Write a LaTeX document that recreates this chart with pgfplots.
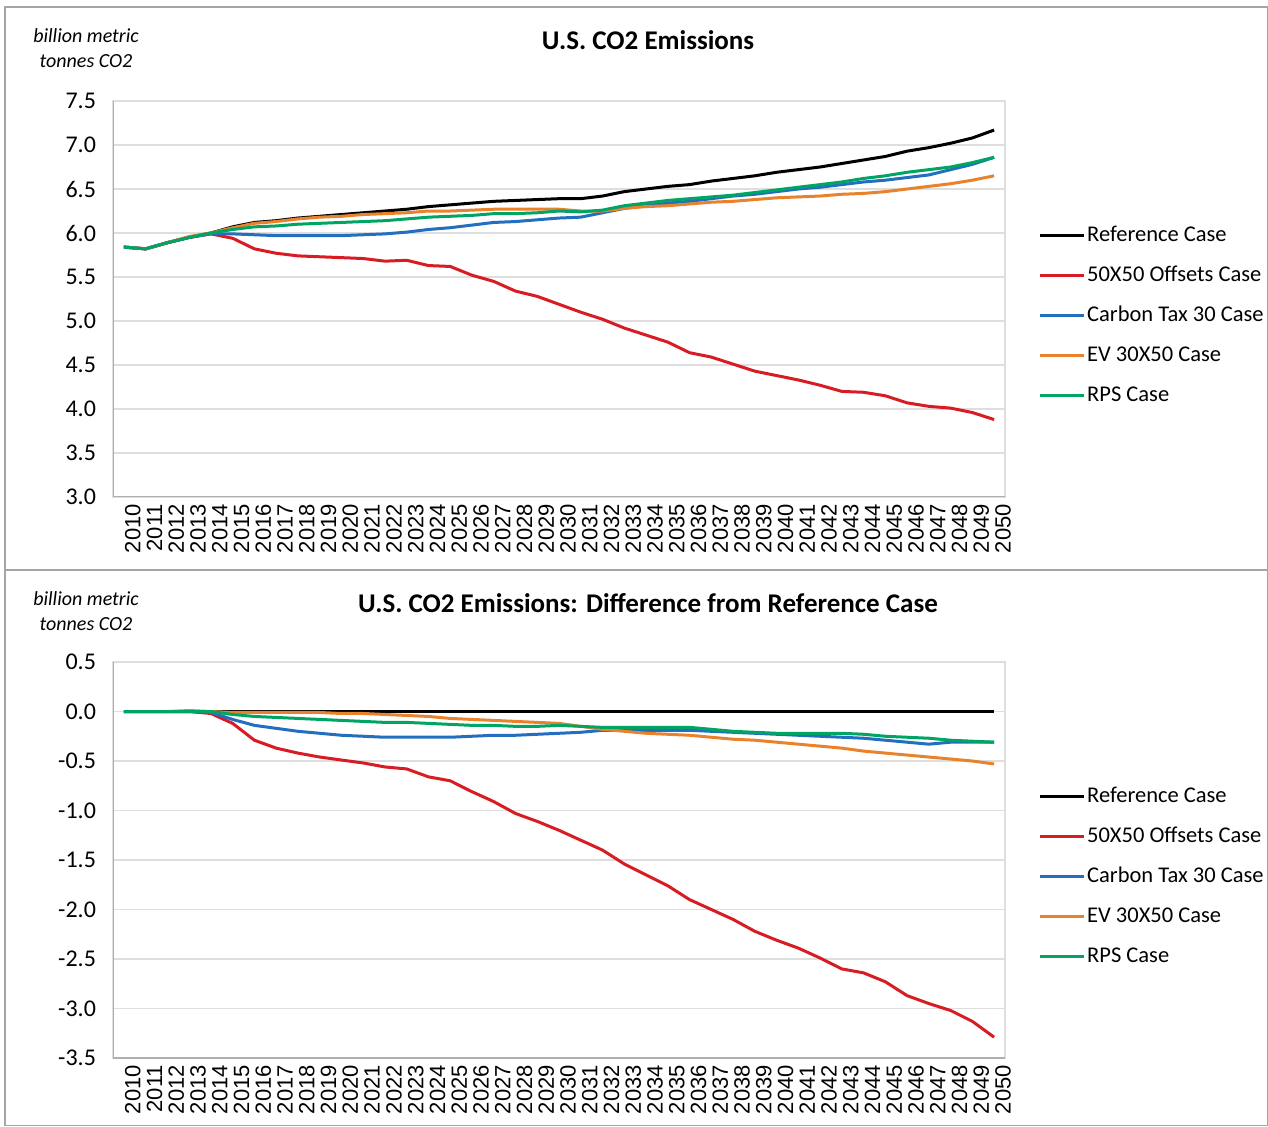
\documentclass[border=0pt]{standalone}
\usepackage{fontspec}
\setmainfont{Carlito}
\newfontfamily\arialfont{Liberation Sans}
\usepackage{pgfplots}
\pgfplotsset{compat=1.18}
\usepackage{pgfplotstable}

\definecolor{cRef}{RGB}{0,0,0}
\definecolor{cOff}{RGB}{215,28,35}
\definecolor{cTax}{RGB}{35,110,190}
\definecolor{cEV}{RGB}{232,130,45}
\definecolor{cRPS}{RGB}{0,165,100}
\definecolor{gridc}{RGB}{222,222,222}
\definecolor{axc}{RGB}{175,175,175}
\definecolor{framec}{RGB}{165,165,165}

\pgfplotstableread{
year ref off tax ev rps
2010 5.84 5.84 5.84 5.84 5.84
2011 5.82 5.82 5.82 5.82 5.82
2012 5.89 5.89 5.89 5.89 5.89
2013 5.95 5.95 5.95 5.96 5.95
2014 6.00 5.99 5.99 6.00 6.00
2015 6.07 5.94 5.99 6.06 6.04
2016 6.12 5.82 5.98 6.11 6.07
2017 6.14 5.77 5.97 6.13 6.08
2018 6.17 5.74 5.97 6.16 6.10
2019 6.19 5.73 5.97 6.18 6.11
2020 6.21 5.72 5.97 6.19 6.12
2021 6.23 5.71 5.98 6.21 6.13
2022 6.25 5.68 5.99 6.22 6.14
2023 6.27 5.69 6.01 6.23 6.16
2024 6.30 5.63 6.04 6.25 6.18
2025 6.32 5.62 6.06 6.25 6.19
2026 6.34 5.52 6.09 6.26 6.20
2027 6.36 5.45 6.12 6.27 6.22
2028 6.37 5.34 6.13 6.27 6.22
2029 6.38 5.28 6.15 6.27 6.23
2030 6.39 5.19 6.17 6.27 6.25
2031 6.39 5.10 6.18 6.25 6.24
2032 6.42 5.02 6.23 6.25 6.26
2033 6.47 4.92 6.28 6.28 6.31
2034 6.50 4.84 6.31 6.30 6.34
2035 6.53 4.76 6.34 6.31 6.37
2036 6.55 4.64 6.36 6.33 6.39
2037 6.59 4.59 6.39 6.35 6.41
2038 6.62 4.51 6.42 6.36 6.43
2039 6.65 4.43 6.44 6.38 6.46
2040 6.69 4.38 6.47 6.40 6.49
2041 6.72 4.33 6.50 6.41 6.52
2042 6.75 4.27 6.52 6.42 6.55
2043 6.79 4.20 6.55 6.44 6.58
2044 6.83 4.19 6.58 6.45 6.62
2045 6.87 4.15 6.60 6.47 6.65
2046 6.93 4.07 6.63 6.50 6.69
2047 6.97 4.03 6.66 6.53 6.72
2048 7.02 4.01 6.72 6.56 6.75
2049 7.08 3.96 6.78 6.60 6.80
2050 7.17 3.88 6.86 6.65 6.86
}\levels

\pgfplotstableread{
year ref off tax ev rps
2010 0 0 0 0 0
2011 0 0 0 0 0
2012 0 0 0 0 0
2013 0 0 0 0.01 0
2014 0 -0.02 -0.01 0 0
2015 0 -0.12 -0.08 -0.01 -0.03
2016 0 -0.29 -0.14 -0.01 -0.05
2017 0 -0.37 -0.17 -0.01 -0.06
2018 0 -0.42 -0.20 -0.01 -0.07
2019 0 -0.46 -0.22 -0.01 -0.08
2020 0 -0.49 -0.24 -0.02 -0.09
2021 0 -0.52 -0.25 -0.02 -0.10
2022 0 -0.56 -0.26 -0.03 -0.11
2023 0 -0.58 -0.26 -0.04 -0.11
2024 0 -0.66 -0.26 -0.05 -0.12
2025 0 -0.70 -0.26 -0.07 -0.13
2026 0 -0.81 -0.25 -0.08 -0.14
2027 0 -0.91 -0.24 -0.09 -0.14
2028 0 -1.03 -0.24 -0.10 -0.15
2029 0 -1.11 -0.23 -0.11 -0.15
2030 0 -1.20 -0.22 -0.12 -0.14
2031 0 -1.30 -0.21 -0.15 -0.15
2032 0 -1.40 -0.19 -0.18 -0.16
2033 0 -1.54 -0.19 -0.20 -0.16
2034 0 -1.65 -0.19 -0.22 -0.16
2035 0 -1.76 -0.19 -0.23 -0.16
2036 0 -1.90 -0.19 -0.24 -0.16
2037 0 -2.00 -0.20 -0.26 -0.18
2038 0 -2.10 -0.21 -0.28 -0.20
2039 0 -2.22 -0.22 -0.29 -0.21
2040 0 -2.31 -0.23 -0.31 -0.22
2041 0 -2.39 -0.24 -0.33 -0.22
2042 0 -2.49 -0.25 -0.35 -0.22
2043 0 -2.60 -0.26 -0.37 -0.22
2044 0 -2.64 -0.27 -0.40 -0.23
2045 0 -2.73 -0.29 -0.42 -0.25
2046 0 -2.87 -0.31 -0.44 -0.26
2047 0 -2.95 -0.33 -0.46 -0.27
2048 0 -3.02 -0.31 -0.48 -0.29
2049 0 -3.13 -0.31 -0.50 -0.30
2050 0 -3.29 -0.31 -0.53 -0.31
}\diffs

\pgfplotsset{
  co2/.style={
    scale only axis, width=446pt, height=198pt,
    xmin=2009.5, xmax=2050.5,
    xtick={2010,...,2050},
    /pgf/number format/assume math mode=true,
    xticklabel style={rotate=90, anchor=east, font=\arialfont\fontsize{11}{13}\selectfont,
      /pgf/number format/1000 sep={}, yshift=-4.5pt},
    yticklabel style={font=\fontsize{12}{14}\selectfont, xshift=-5pt,
      /pgf/number format/.cd, fixed, fixed zerofill, precision=1},
    major tick length=0pt,
    ymajorgrids, grid style={gridc, line width=0.6pt},
    axis line style={draw=gridc, line width=0.6pt},
    every axis plot/.append style={line width=1.5pt, mark=none, line join=round},
    legend style={draw=none, fill=none, at={(1.030,0.70)}, anchor=north west,
      font=\fontsize{11.25}{13}\selectfont, row sep=9pt,
      nodes={inner xsep=1pt, inner ysep=0pt, text height=8.5pt, text depth=2.5pt}},
    legend cell align=left,
    legend image code/.code={\draw[##1] (0pt,0pt) -- (22pt,0pt);},
  }
}

\begin{document}
\begin{tikzpicture}
\useasboundingbox (0,0) rectangle (634pt,563pt);
\draw[framec, line width=0.6pt] (2.5pt,0.3pt) rectangle (633.7pt,559.5pt);
\draw[framec, line width=0.6pt] (2.5pt,278pt) -- (633.7pt,278pt);

\node[font=\bfseries\fontsize{13.5}{16}\selectfont] at (324pt,543pt) {U.S. CO2 Emissions};
\node[font=\itshape\fontsize{10}{12}\selectfont] at (43pt,545pt) {billion metric};
\node[font=\itshape\fontsize{10}{12}\selectfont] at (43pt,532.5pt) {tonnes CO2};

\node[font=\bfseries\fontsize{13.5}{16}\selectfont] at (324pt,261.5pt) {U.S. CO2 Emissions: Difference from Reference Case};
\node[font=\itshape\fontsize{10}{12}\selectfont] at (43pt,263.5pt) {billion metric};
\node[font=\itshape\fontsize{10}{12}\selectfont] at (43pt,251pt) {tonnes CO2};

\begin{axis}[co2, at={(56.5pt,314.5pt)}, anchor=south west,
  ymin=3, ymax=7.5, ytick={3,3.5,4,4.5,5,5.5,6,6.5,7,7.5}]
  \draw[axc, line width=0.7pt] (rel axis cs:0,1) -- (rel axis cs:0,0) -- (rel axis cs:1,0);
  \addplot[cRef] table[x=year, y=ref] {\levels};
  \addlegendentry{Reference Case}
  \addplot[cOff] table[x=year, y=off] {\levels};
  \addlegendentry{50X50 Offsets Case}
  \addplot[cTax] table[x=year, y=tax] {\levels};
  \addlegendentry{Carbon Tax 30 Case}
  \addplot[cEV] table[x=year, y=ev] {\levels};
  \addlegendentry{EV 30X50 Case}
  \addplot[cRPS] table[x=year, y=rps] {\levels};
  \addlegendentry{RPS Case}
\end{axis}

\begin{axis}[co2, at={(56.5pt,34pt)}, anchor=south west,
  ymin=-3.5, ymax=0.5, ytick={-3.5,-3,-2.5,-2,-1.5,-1,-0.5,0,0.5}]
  \draw[axc, line width=0.7pt] (rel axis cs:0,1) -- (rel axis cs:0,0) -- (rel axis cs:1,0);
  \addplot[cRef] table[x=year, y=ref] {\diffs};
  \addlegendentry{Reference Case}
  \addplot[cOff] table[x=year, y=off] {\diffs};
  \addlegendentry{50X50 Offsets Case}
  \addplot[cTax] table[x=year, y=tax] {\diffs};
  \addlegendentry{Carbon Tax 30 Case}
  \addplot[cEV] table[x=year, y=ev] {\diffs};
  \addlegendentry{EV 30X50 Case}
  \addplot[cRPS] table[x=year, y=rps] {\diffs};
  \addlegendentry{RPS Case}
\end{axis}
\end{tikzpicture}
\end{document}
